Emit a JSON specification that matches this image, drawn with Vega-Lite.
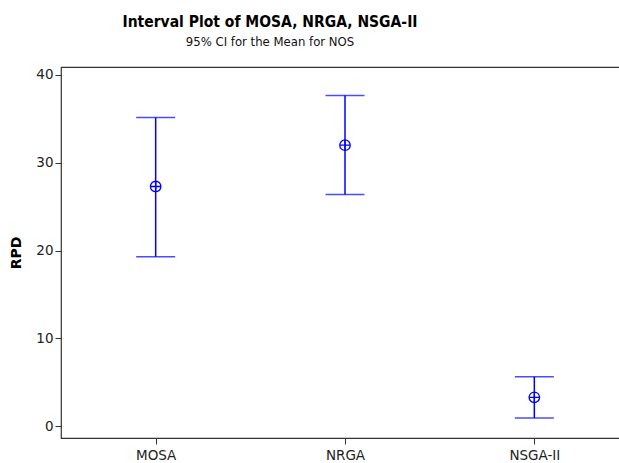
{
  "$schema": "https://vega.github.io/schema/vega-lite/v6.json",
  "autosize": "none",
  "padding": {"left": 61, "top": 67, "right": 0, "bottom": 26},
  "width": 568,
  "height": 371,
  "background": "white",
  "config": {
    "font": "DejaVu Sans",
    "view": {"stroke": "#333333", "strokeWidth": 1.2},
    "axis": {"grid": false, "domain": false, "tickColor": "#333333", "tickSize": 6, "labelColor": "#222222", "labelFontSize": 13.5, "titleColor": "black"}
  },
  "title": {
    "text": "Interval Plot of MOSA, NRGA, NSGA-II",
    "subtitle": "95% CI for the Mean for NOS",
    "font": "DejaVu Sans Condensed",
    "subtitleFont": "DejaVu Sans Condensed",
    "fontSize": 15.5,
    "fontWeight": "bold",
    "subtitleFontSize": 13,
    "subtitleColor": "#111111",
    "subtitlePadding": 6,
    "anchor": "middle",
    "dx": -75,
    "offset": 18,
    "color": "black"
  },
  "data": {
    "values": [
      {"alg": "MOSA", "mean": 27.3, "lower": 19.3, "upper": 35.15},
      {"alg": "NRGA", "mean": 32.0, "lower": 26.4, "upper": 37.65},
      {"alg": "NSGA-II", "mean": 3.3, "lower": 0.95, "upper": 5.65}
    ]
  },
  "encoding": {
    "x": {
      "field": "alg",
      "type": "nominal",
      "scale": {"type": "point", "padding": 0.5},
      "axis": {"title": null, "labelAngle": 0, "labelPadding": 4}
    }
  },
  "layer": [
    {
      "mark": {"type": "rule", "color": "#0000FF", "strokeWidth": 1.5},
      "encoding": {
        "y": {
          "field": "lower",
          "type": "quantitative",
          "scale": {"domain": [-1.33, 40.9], "nice": false, "zero": false},
          "axis": {"title": "RPD", "values": [0, 10, 20, 30, 40], "titleFontSize": 14, "titleFontWeight": "bold", "titlePadding": 12, "labelPadding": 2}
        },
        "y2": {"field": "upper"}
      }
    },
    {
      "mark": {"type": "tick", "color": "#0000FF", "size": 39, "thickness": 1.5},
      "encoding": {"y": {"field": "upper", "type": "quantitative"}}
    },
    {
      "mark": {"type": "tick", "color": "#0000FF", "size": 39, "thickness": 1.5},
      "encoding": {"y": {"field": "lower", "type": "quantitative"}}
    },
    {
      "mark": {
        "type": "point",
        "shape": "M-1,0A1,1,0,1,1,1,0A1,1,0,1,1,-1,0ZM-1,0L1,0M0,-1L0,1",
        "filled": false,
        "color": "#0000FF",
        "strokeWidth": 1.3,
        "size": 110,
        "opacity": 1
      },
      "encoding": {"y": {"field": "mean", "type": "quantitative"}}
    }
  ]
}
